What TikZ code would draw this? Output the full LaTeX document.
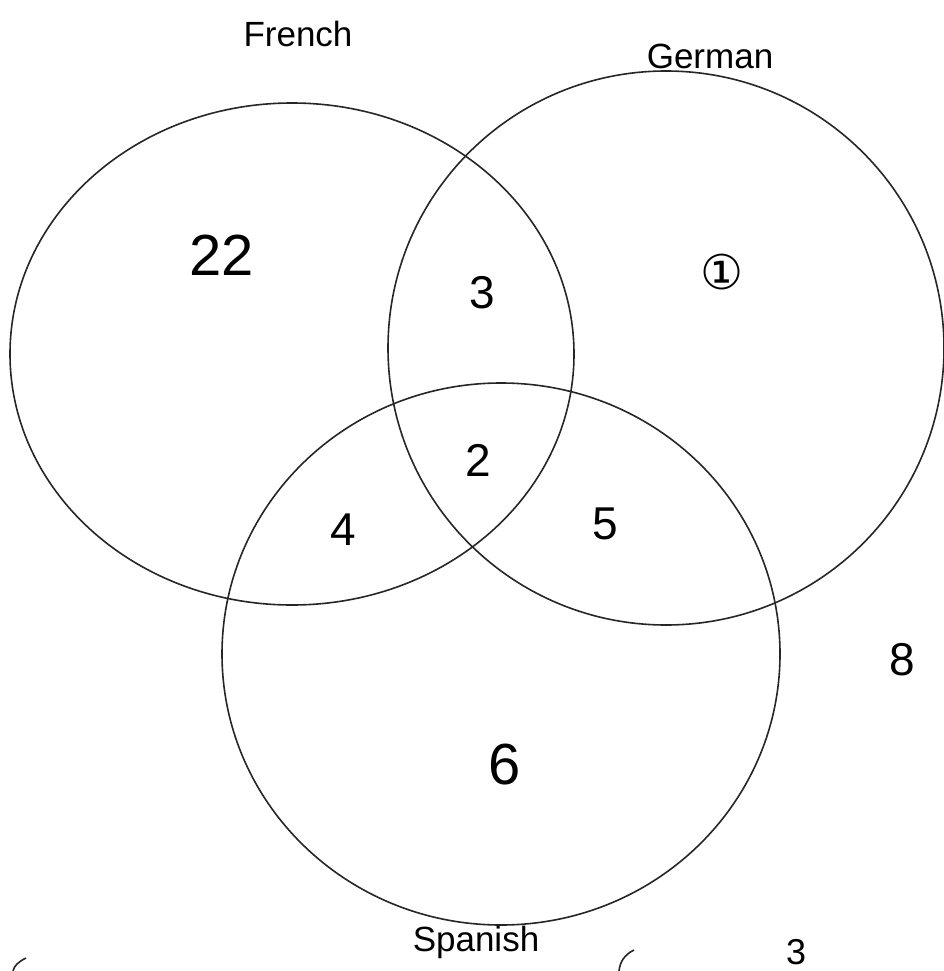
\documentclass[tikz,border=0pt]{standalone}
\usepackage{fontspec}
\setmainfont{Liberation Sans}
\newfontfamily\symfont{DejaVu Sans}
\begin{document}
\begin{tikzpicture}[x=1pt,y=-1pt,
  setline/.style={draw=black!85,line width=1.6pt},
  lbl/.style={font=\fontsize{35}{37}\selectfont},
  num/.style={font=\fontsize{46}{48}\selectfont},
  bignum/.style={font=\fontsize{58}{60}\selectfont}]
\useasboundingbox (0,0) rectangle (944,971);
\draw[setline] (292,354) ellipse [x radius=282,y radius=251];
\draw[setline] (666,348) ellipse [x radius=278,y radius=277];
\draw[setline] (501,654) ellipse [x radius=279,y radius=271];
\node[lbl] (fr) at (298,34) {French};
\node[lbl] (ge) at (710,56) {German};
\node[lbl] (sp) at (476,942) {Spanish};
\node[bignum] (n22) at (222,255) {22};
\node[num] (n3) at (482,293) {3};
\node[num] (n2) at (478,460) {2};
\node[num] (n4) at (343,530) {4};
\node[num] (n5) at (605,524) {5};
\node[bignum] (n6) at (505,765) {6};
\node[font=\symfont\fontsize{48}{50}\selectfont] (n0) at (722,272) {①};
\node[num] (n8) at (902,660) {8};
\node[font=\fontsize{36}{38}\selectfont] (n3b) at (796,952) {3};
\draw[setline] (634,950) .. controls (624,955) and (620,962) .. (619,971);
\draw[setline] (26,958) .. controls (18,962) and (14,966) .. (13,971);
\end{tikzpicture}
\end{document}
